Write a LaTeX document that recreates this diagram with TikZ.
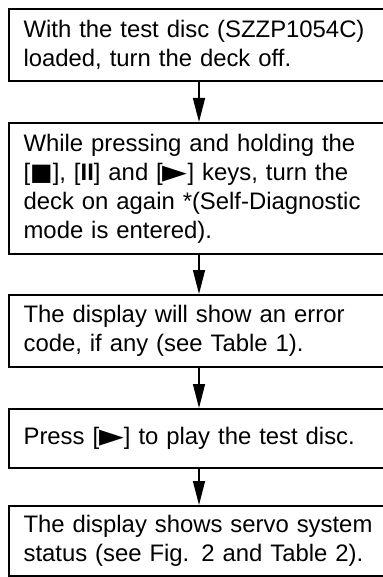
\documentclass[tikz,border=0pt]{standalone}
\usepackage{fontspec}
\setmainfont{Liberation Sans}
\newfontfamily\symfont{DejaVu Sans}
\usepackage{tikz}
\usetikzlibrary{positioning,arrows.meta}
\tikzset{
  stepbox/.style   = {rectangle, draw, line width=1.4pt, anchor=north west,
                      minimum width=281.25pt, text width=272pt, inner xsep=11pt,
                      align=left, font=\fontsize{17.9pt}{21.8pt}\selectfont},
  steparrow/.style = {-{Triangle[length=18pt, width=9pt]}, line width=1.1pt}
}
\newcommand{\stopkey}{{\symfont ■}}
\newcommand{\pausekey}{{\bfseries II}}
\newcommand{\playkey}{\raisebox{-0.1em}{\scalebox{1.35}{\symfont ►}}}

\begin{document}
\begin{tikzpicture}[x=0.75pt, y=-0.75pt]
  \useasboundingbox (0,0) rectangle (382,577);
  % Steps
  \node[stepbox, minimum height=54pt]    (s1) at (8,8)
    {With the test disc (SZZP1054C)\\loaded, turn the deck off.};
  \node[stepbox, minimum height=98.25pt] (s2) at (8,122)
    {While pressing and holding the\\{}[\stopkey], [\pausekey] and [\playkey] keys, turn the\\deck on again *(Self-Diagnostic\\mode is entered).};
  \node[stepbox, minimum height=54pt]    (s3) at (8,294)
    {The display will show an error\\code, if any (see Table 1).};
  \node[stepbox, minimum height=44.25pt] (s4) at (8,408)
    {Press [\playkey] to play the test disc.};
  \node[stepbox, minimum height=52.5pt]  (s5) at (8,505)
    {The display shows servo system\\status (see Fig. 2 and Table 2).};
  % Arrows
  \coordinate (ax) at (199,0);
  \draw[steparrow] (s1.south -| ax) -- (s2.north -| ax);
  \draw[steparrow] (s2.south -| ax) -- (s3.north -| ax);
  \draw[steparrow] (s3.south -| ax) -- (s4.north -| ax);
  \draw[steparrow] (s4.south -| ax) -- (s5.north -| ax);
\end{tikzpicture}
\end{document}
